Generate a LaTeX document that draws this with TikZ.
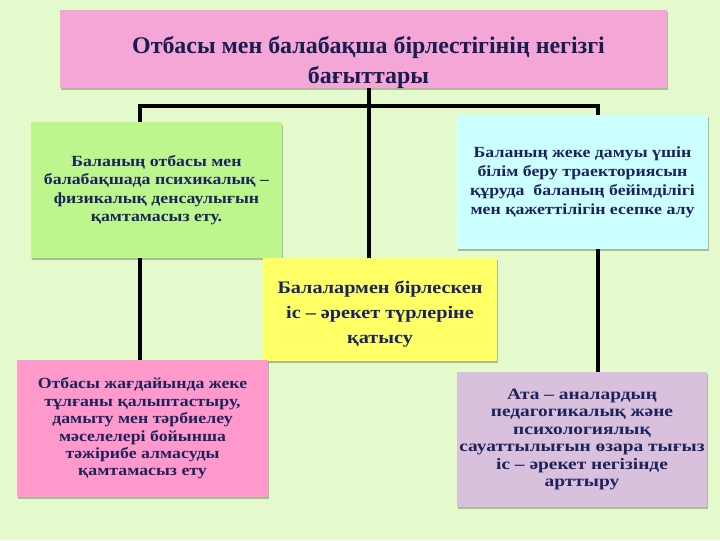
\documentclass[tikz,border=0pt]{standalone}
\usepackage{fontspec}
\setmainfont{Liberation Serif}
\newfontfamily\largefont[FakeStretch=1.15]{Liberation Serif}
\newfontfamily\treslarge[FakeStretch=1.22]{Liberation Serif}
\usetikzlibrary{shadows}

\definecolor{fond}{RGB}{229,250,204}
\definecolor{encre}{RGB}{28,35,92}
\definecolor{rosetitre}{RGB}{244,166,214}
\definecolor{vertbox}{RGB}{190,246,142}
\definecolor{cyanbox}{RGB}{204,255,255}
\definecolor{jaunebox}{RGB}{255,255,102}
\definecolor{rosebox}{RGB}{255,153,204}
\definecolor{mauvebox}{RGB}{217,192,221}

\pgfdeclarelayer{fondlayer}
\pgfdeclarelayer{lignes}
\pgfsetlayers{fondlayer,lignes,main}

\begin{document}
\begin{tikzpicture}[x=0.025cm,y=-0.025cm]
		\tikzstyle{boite} = [rectangle,inner sep=0pt,align=center,text=encre,font=\largefont\bfseries\fontsize{11}{13}\selectfont,
			drop shadow={shadow xshift=1pt,shadow yshift=-1.5pt,fill=black,opacity=0.25}];
		\tikzstyle{lien} = [black,line width=2.6pt,line join=miter];
		
		\begin{pgfonlayer}{fondlayer}
			\fill[fond] (0,0) rectangle (720,540);
		\end{pgfonlayer}
		\useasboundingbox (0,0) rectangle (720,540);
		
		
		\node[boite,fill=rosetitre,minimum width=15.175cm,minimum height=1.95cm,
			font=\rmfamily\bfseries\fontsize{17}{21}\selectfont,text={rgb,255:red,24;green,28;blue,80}] (titre) at (363.5,49)
			{\mbox{}\\[10pt]\hspace*{0.25cm}Отбасы мен балабақша бірлестігінің негізгі\\\hspace*{0.25cm}бағыттары};
		
		\node[boite,fill=vertbox,minimum width=6.275cm,minimum height=3.375cm] (sante) at (156.5,190)
			{Баланың отбасы мен\\балабақшада психикалық –\\физикалық денсаулығын\\қамтамасыз ету.};
		\node[boite,fill=cyanbox,minimum width=6.275cm,minimum height=3.35cm,
			font=\largefont\bfseries\fontsize{11}{13.5}\selectfont] (trajectoire) at (582.5,182)
			{Баланың жеке дамуы үшін\\білім беру траекториясын\\құруда~~баланың бейімділігі\\мен қажеттілігін есепке алу};
		\node[boite,fill=jaunebox,minimum width=5.85cm,minimum height=2.575cm,
			font=\largefont\bfseries\fontsize{12.5}{17.7}\selectfont] (activite) at (380,309.5)
			{\mbox{}\\[-2pt]Балалармен бірлескен\\іс – әрекет түрлеріне\\қатысу};
		\node[boite,fill=rosebox,minimum width=6.275cm,minimum height=3.425cm,
			font=\largefont\bfseries\fontsize{11}{12.4}\selectfont] (experience) at (142.5,428.5)
			{Отбасы жағдайында жеке\\тұлғаны қалыптастыру,\\дамыту мен тәрбиелеу\\мәселелері бойынша\\тәжірибе алмасуды\\қамтамасыз ету};
		\node[boite,fill=mauvebox,minimum width=6.25cm,minimum height=3.375cm,
			font=\treslarge\bfseries\fontsize{11.3}{12.5}\selectfont] (parents) at (582,439.5)
			{Ата – аналардың\\педагогикалық және\\психологиялық\\сауаттылығын өзара тығыз\\іс – әрекет негізінде\\арттыру};
		
		
		\coordinate (busG) at (140,106);
		\coordinate (busM) at (369,106);
		\coordinate (busD) at (598,106);
		\begin{pgfonlayer}{lignes}
			\draw[lien] (experience.north -| busG) -- (busG) -- (busD) -- (parents.north -| busD);
			\draw[lien] (titre.south -| busM) -- (activite.north -| busM);
		\end{pgfonlayer}
		
	\end{tikzpicture}
\end{document}
